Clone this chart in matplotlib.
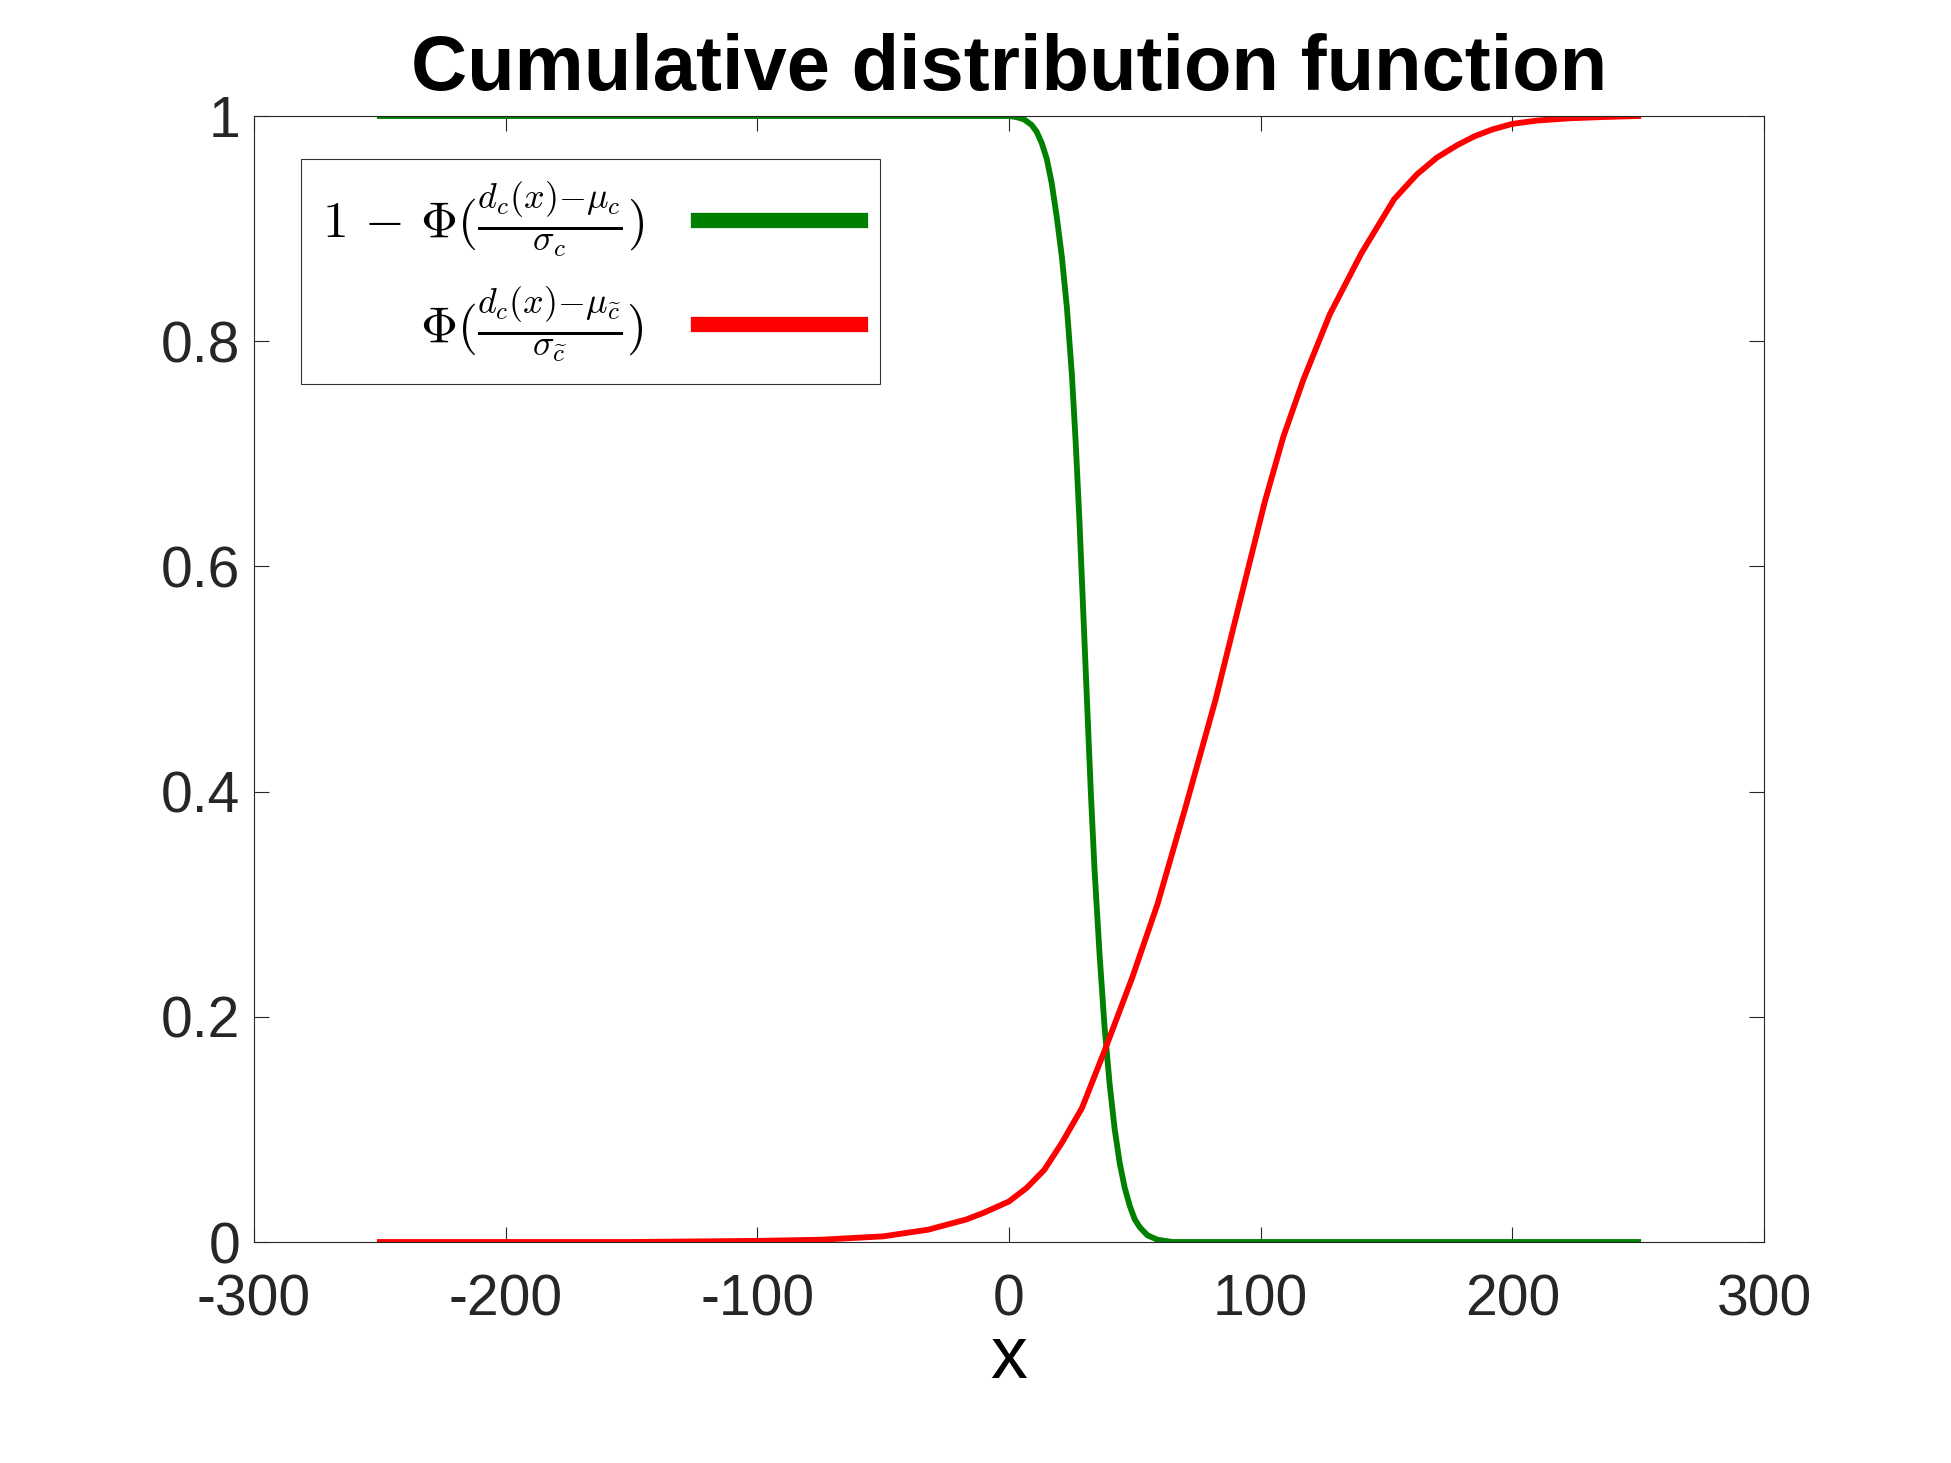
import matplotlib
matplotlib.use("Agg")
import matplotlib.pyplot as plt

plt.rcParams['font.family'] = ['Liberation Sans', 'DejaVu Sans']
plt.rcParams['mathtext.fontset'] = 'cm'

# values
green_x = [-250, -200, -150, -100, -50, 0, 3, 6, 9, 11, 13, 15, 17, 19, 21, 23, 25, 26.5,
           28, 29.5, 31, 32.5, 34, 36, 38, 40, 42, 44, 46, 48, 50, 52, 55, 59, 65, 100, 150, 200, 250]
green_y = [1, 1, 1, 1, 1, 1.0, 0.999, 0.997, 0.992, 0.986, 0.976, 0.962, 0.94, 0.91, 0.875, 0.83, 0.77, 0.71,
           0.64, 0.56, 0.48, 0.40, 0.33, 0.255, 0.19, 0.14, 0.10, 0.07, 0.048, 0.032, 0.02, 0.013, 0.006, 0.002, 0,
           0, 0, 0, 0]

red_x = [-250, -200, -150, -100, -75, -50, -32, -17, -10, 0, 7, 14, 21, 29, 38, 49, 59, 70, 82, 94,
         101.6, 109, 117, 127.5, 140, 153, 162, 170, 178, 185, 192, 200, 210, 223, 235, 250]
red_y = [0, 0, 0, 0.001, 0.002, 0.005, 0.011, 0.02, 0.026, 0.036, 0.048, 0.064, 0.088, 0.119, 0.17, 0.235,
         0.30, 0.385, 0.481, 0.589, 0.657, 0.715, 0.766, 0.824, 0.878, 0.926, 0.948, 0.963, 0.974, 0.982,
         0.988, 0.993, 0.996, 0.998, 0.999, 1.0]

x_ticks = [-300, -200, -100, 0, 100, 200, 300]
y_ticks = [0, 0.2, 0.4, 0.6, 0.8, 1]
y_labels = ['0', '0.2', '0.4', '0.6', '0.8', '1']

label_green = r'$1\,-\,\Phi(\frac{d_c(x){-}\mu_c}{\sigma_c})$'
label_red = r'$\Phi(\frac{d_c(x){-}\mu_{\widetilde{c}}}{\sigma_{\widetilde{c}}})$'

fig = plt.figure(figsize=(19.51, 14.63), dpi=100)
ax = fig.add_axes([254/1951, 1 - 1242/1463, 1510/1951, 1126/1463])

ax.plot(green_x, green_y, color='#008000', linewidth=4.2, label=label_green)
ax.plot(red_x, red_y, color='#ff0000', linewidth=4.2, label=label_red)

ax.set_xlim(-300, 300)
ax.set_ylim(0, 1)
ax.set_xticks(x_ticks)
ax.set_xticklabels([str(v) for v in x_ticks])
ax.set_yticks(y_ticks)
ax.set_yticklabels(y_labels)

ax.tick_params(direction='in', length=10.8, width=0.8, color='#262626', labelcolor='#262626',
               labelsize=41, top=True, right=True)
ax.tick_params(axis='x', pad=23)
ax.tick_params(axis='y', pad=10)
for s in ax.spines.values():
    s.set_linewidth(0.8)
    s.set_color('#262626')

ax.set_title('Cumulative distribution function', fontsize=56, fontweight='bold', pad=19)
ax.set_xlabel('x', fontsize=53, labelpad=-3)

leg = ax.legend(loc='upper left', bbox_to_anchor=(47/1510, 1 - 43/1126), borderaxespad=0,
                markerfirst=False, fancybox=False, frameon=True, fontsize=37,
                handlelength=3.15, labelspacing=0.5, borderpad=0.4, handletextpad=1.05)
leg.get_frame().set_edgecolor('black')
leg.get_frame().set_linewidth(0.8)
for h in leg.get_lines():
    h.set_linewidth(11)

fig.savefig('out.png', dpi=100)
